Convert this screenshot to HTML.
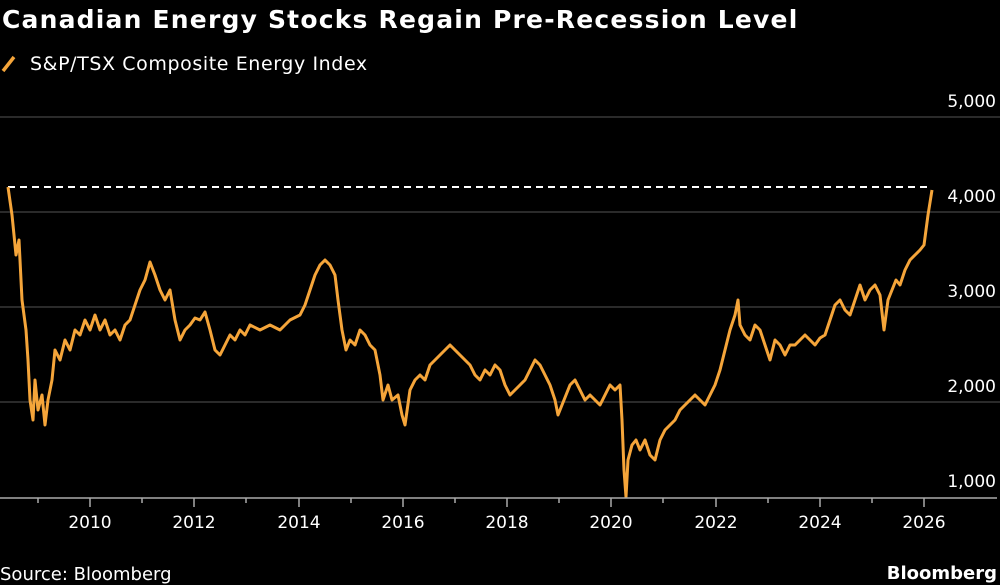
<!DOCTYPE html>
<html><head><meta charset="utf-8"><style>
html,body{margin:0;padding:0;background:#000;width:1000px;height:585px;overflow:hidden}
svg{display:block}
text{font-family:"DejaVu Sans","Liberation Sans",sans-serif;fill:#fff}
</style></head><body>
<svg width="1000" height="585" viewBox="0 0 1000 585">
<text x="2" y="28" font-size="25" font-weight="bold" letter-spacing="1.2">Canadian Energy Stocks Regain Pre-Recession Level</text>
<line x1="3" y1="71" x2="14" y2="57" stroke="#f5a53a" stroke-width="3.5"/>
<text x="30" y="70" font-size="19" fill="#ddd" letter-spacing="0.6">S&amp;P/TSX Composite Energy Index</text>
<g stroke="#555" stroke-width="1">
<line x1="0" y1="117" x2="1000" y2="117"/>
<line x1="0" y1="212" x2="1000" y2="212"/>
<line x1="0" y1="307" x2="1000" y2="307"/>
<line x1="0" y1="402" x2="1000" y2="402"/>
</g>
<g font-size="17" text-anchor="end" fill="#ddd">
<text x="996" y="107">5,000</text>
<text x="996" y="202">4,000</text>
<text x="996" y="297">3,000</text>
<text x="996" y="392">2,000</text>
<text x="996" y="487">1,000</text>
</g>
<line x1="8" y1="187" x2="932" y2="187" stroke="#fff" stroke-width="2" stroke-dasharray="7,5"/>
<polyline fill="none" stroke="#f5a53a" stroke-width="3" stroke-linejoin="round" points="8,187 12,215 16,255 19,240 22,300 26,330 28,360 30,400 33,420 35,380 38,410 42,395 45,425 48,400 52,380 55,350 60,360 65,340 70,350 75,330 80,335 85,320 90,330 95,315 100,330 105,320 110,335 115,330 120,340 125,325 130,320 135,305 140,290 145,280 150,262 155,275 160,290 165,300 170,290 175,320 180,340 185,330 190,325 195,318 200,320 205,312 210,330 215,350 220,355 225,345 230,335 235,340 240,330 245,335 250,325 260,330 270,325 280,330 290,320 300,315 305,305 310,290 315,275 320,265 325,260 330,265 335,275 338,300 342,330 346,350 350,340 355,345 360,330 365,335 370,345 375,350 380,375 383,400 388,385 392,400 398,395 402,415 405,425 410,390 415,380 420,375 425,380 430,365 435,360 440,355 445,350 450,345 455,350 460,355 465,360 470,365 475,375 480,380 485,370 490,375 495,365 500,370 505,385 510,395 515,390 520,385 525,380 530,370 535,360 540,365 545,375 550,385 555,400 558,415 562,405 566,395 570,385 575,380 580,390 585,400 590,395 595,400 600,405 605,395 610,385 615,390 620,385 622,420 624,470 626,497 628,460 632,445 636,440 640,450 645,440 650,455 655,460 660,440 665,430 670,425 675,420 680,410 685,405 690,400 695,395 700,400 705,405 710,395 715,385 720,370 725,350 730,330 735,315 738,300 740,325 745,335 750,340 755,325 760,330 765,345 770,360 775,340 780,345 785,355 790,345 795,345 800,340 805,335 810,340 815,345 820,338 825,335 830,320 835,305 840,300 845,310 850,315 855,300 860,285 865,300 870,290 875,285 880,295 884,330 888,300 892,290 896,280 900,285 905,270 910,260 915,255 920,250 924,245 928,215 932,190"/>
<line x1="0" y1="498" x2="997" y2="498" stroke="#aaa" stroke-width="1.5"/>
<g stroke="#aaa" stroke-width="1.5">
<line x1="38" y1="498" x2="38" y2="503"/><line x1="90" y1="498" x2="90" y2="507"/>
<line x1="142" y1="498" x2="142" y2="503"/><line x1="194" y1="498" x2="194" y2="507"/>
<line x1="246" y1="498" x2="246" y2="503"/><line x1="299" y1="498" x2="299" y2="507"/>
<line x1="351" y1="498" x2="351" y2="503"/><line x1="403" y1="498" x2="403" y2="507"/>
<line x1="455" y1="498" x2="455" y2="503"/><line x1="507" y1="498" x2="507" y2="507"/>
<line x1="559" y1="498" x2="559" y2="503"/><line x1="611" y1="498" x2="611" y2="507"/>
<line x1="663" y1="498" x2="663" y2="503"/><line x1="716" y1="498" x2="716" y2="507"/>
<line x1="768" y1="498" x2="768" y2="503"/><line x1="820" y1="498" x2="820" y2="507"/>
<line x1="872" y1="498" x2="872" y2="503"/><line x1="924" y1="498" x2="924" y2="507"/>
</g>
<g font-size="17" text-anchor="middle" fill="#ddd">
<text x="90" y="528">2010</text><text x="194" y="528">2012</text><text x="299" y="528">2014</text>
<text x="403" y="528">2016</text><text x="507" y="528">2018</text><text x="611" y="528">2020</text>
<text x="716" y="528">2022</text><text x="820" y="528">2024</text><text x="924" y="528">2026</text>
</g>
<text x="0" y="580" font-size="18" fill="#ddd">Source: Bloomberg</text>
<text x="997" y="579" font-size="18" font-weight="bold" text-anchor="end">Bloomberg</text>
</svg>
</body></html>
